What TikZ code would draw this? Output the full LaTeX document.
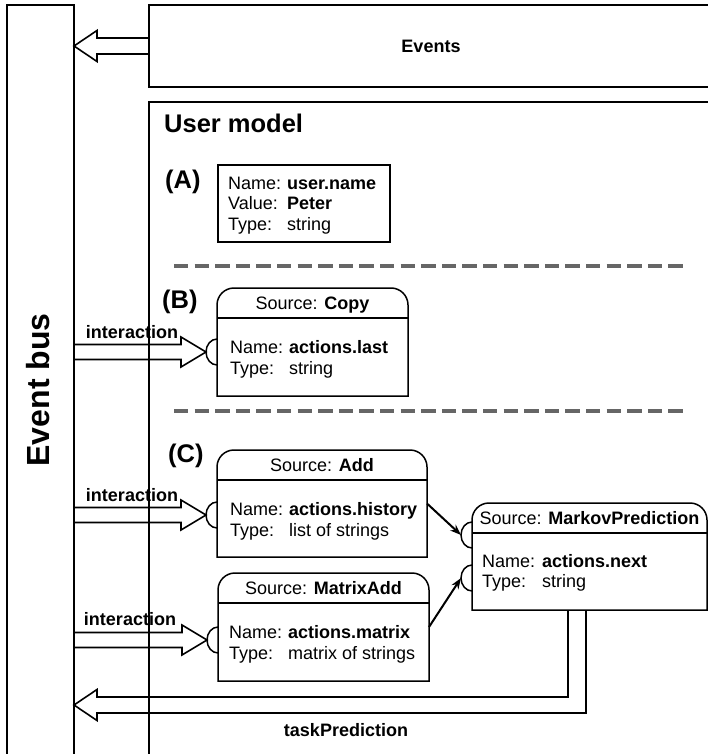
\documentclass[tikz,border=0pt]{standalone}
\usepackage{fontspec}
\setmainfont{Liberation Sans}
\usetikzlibrary{calc,arrows.meta}
\newcommand\fs[1]{\fontsize{#1}{#1}\selectfont}
\newcommand\lab[1]{\makebox[59pt][l]{#1}}
\newcommand\rbox[1]{%
  \draw[rb] (#1.south west) -- ([yshift=-17pt]#1.north west)
    arc[start angle=180,end angle=90,radius=17pt]
    -- ([xshift=-17pt]#1.north east)
    arc[start angle=90,end angle=0,radius=17pt]
    -- (#1.south east) -- cycle;
  \draw[rb] ([yshift=-30pt]#1.north west) -- ([yshift=-30pt]#1.north east);}
\newcommand\socket[1]{%
  \draw[rb] ([yshift=13pt]#1) arc[start angle=90,end angle=270,x radius=11pt,y radius=13pt];}
\newcommand\rarrow[2]{%
  \draw[ar] ($(#1)+(0,-7.5)$) -- ($(#2)+(-25,-7.5)$) -- ($(#2)+(-25,-15)$) -- (#2)
    -- ($(#2)+(-25,15)$) -- ($(#2)+(-25,7.5)$) -- ($(#1)+(0,7.5)$);}
\begin{document}
\begin{tikzpicture}[x=1pt,y=-1pt,
  frame/.style={draw, line width=1.9pt, inner sep=0pt, outer sep=0pt},
  abox/.style={draw, line width=1.2pt, inner sep=0pt, outer sep=0pt},
  plain/.style={inner sep=0pt, outer sep=0pt},
  rb/.style={line width=1.5pt},
  ar/.style={line width=1.6pt, line join=miter},
  txt/.style={font=\fs{18}, inner sep=0pt, anchor=base west},
  ttl/.style={font=\fs{18}, inner sep=0pt, anchor=base},
  big/.style={font=\fs{25.5}\bfseries, inner sep=0pt, anchor=base west},
  lbl/.style={font=\fs{18}\bfseries, inner sep=0pt},
  sep/.style={draw=black!60, line width=4pt, dash pattern=on 14.3pt off 6.3pt},
  conn/.style={line width=2pt, -{Stealth[length=11pt,width=8pt]}},
]
\useasboundingbox (0,0) rectangle (708,754);
\clip (0,0) rectangle (708,754);

% event bus
\node[frame, anchor=north west, minimum width=67pt, minimum height=800pt] (eventbus) at (7,5) {};
\node[font=\fs{32}\bfseries, rotate=90, inner sep=0pt] (ebtext) at (38,390) {Event bus};

% events
\node[frame, anchor=north west, minimum width=600pt, minimum height=82pt] (events) at (149,5) {};
\node[lbl] (eventstext) at (431,46) {Events};
\coordinate (evs) at (events.west);
\coordinate (evtip) at (eventbus.east |- events.west);
\draw[ar] ($(evs)+(0,-8)$) -- ($(evtip)+(23,-8)$) -- ($(evtip)+(23,-15.5)$) -- (evtip)
  -- ($(evtip)+(23,15.5)$) -- ($(evtip)+(23,8)$) -- ($(evs)+(0,8)$);

% user model
\node[frame, anchor=north west, minimum width=600pt, minimum height=700pt] (usermodel) at (149,102) {};
\node[big] (umtitle) at (164,133) {User model};

% (A)
\node[big] (la) at (165,189) {(A)};
\node[abox, anchor=north west, minimum width=172pt, minimum height=77pt] (a) at (218,165) {};
\node[txt] (a1) at (228,189.5) {\lab{Name:}\textbf{user.name}};
\node[txt] (a2) at (228,209.5) {\lab{Value:}\textbf{Peter}};
\node[txt] (a3) at (228,230.5) {\lab{Type:}string};

\coordinate (d1s) at (174,266);
\coordinate (d1e) at (684,266);
\draw[sep] (d1s) -- (d1e);

% (B)
\node[big] (lb) at (162,308) {(B)};
\node[plain, anchor=north west, minimum width=191pt, minimum height=108pt] (b) at (217,288) {};
\rbox{b}
\node[ttl] (bt) at ($(b.north)+(0,21.5)$) {Source: \textbf{Copy}};
\node[txt] (b1) at ($(b.north west)+(13,65.5)$) {\lab{Name:}\textbf{actions.last}};
\node[txt] (b2) at ($(b.north west)+(13,86.5)$) {\lab{Type:}string};
\coordinate (bs) at ($(b.north west)+(0,64)$);
\socket{bs}
\coordinate (bst) at (eventbus.east |- bs);
\coordinate (btip) at ($(bs)+(-11,0)$);
\rarrow{bst}{btip}
\node[lbl] (bi) at ($(bst)+(58,-20)$) {interaction};

\coordinate (d2s) at (174,411);
\coordinate (d2e) at (684,411);
\draw[sep] (d2s) -- (d2e);

% (C)
\node[big] (lc) at (168,462) {(C)};
\node[plain, anchor=north west, minimum width=210pt, minimum height=107pt] (add) at (217,450) {};
\rbox{add}
\node[ttl] (addt) at ($(add.north)+(0,21.5)$) {Source: \textbf{Add}};
\node[txt] (add1) at ($(add.north west)+(13,65.5)$) {\lab{Name:}\textbf{actions.history}};
\node[txt] (add2) at ($(add.north west)+(13,86.5)$) {\lab{Type:}list of strings};
\coordinate (adds) at ($(add.north west)+(0,65)$);
\socket{adds}
\coordinate (addst) at (eventbus.east |- adds);
\coordinate (addtip) at ($(adds)+(-11,0)$);
\rarrow{addst}{addtip}
\node[lbl] (addi) at ($(addst)+(58,-20)$) {interaction};

\node[plain, anchor=north west, minimum width=211pt, minimum height=108pt] (madd) at (218,573) {};
\rbox{madd}
\node[ttl] (maddt) at ($(madd.north)+(0,21.5)$) {Source: \textbf{MatrixAdd}};
\node[txt] (madd1) at ($(madd.north west)+(11,65.5)$) {\lab{Name:}\textbf{actions.matrix}};
\node[txt] (madd2) at ($(madd.north west)+(11,86.5)$) {\lab{Type:}matrix of strings};
\coordinate (madds) at ($(madd.north west)+(0,67)$);
\socket{madds}
\coordinate (maddst) at (eventbus.east |- madds);
\coordinate (maddtip) at ($(madds)+(-11,0)$);
\rarrow{maddst}{maddtip}
\node[lbl] (maddi) at ($(maddst)+(56,-21)$) {interaction};

% Markov
\node[plain, anchor=north west, minimum width=235pt, minimum height=107pt] (markov) at (472,503) {};
\rbox{markov}
\node[ttl] (markovt) at ($(markov.north)+(0,21.5)$) {Source: \textbf{MarkovPrediction}};
\node[txt] (markov1) at ($(markov.north west)+(10,64.5)$) {\makebox[60pt][l]{Name:}\textbf{actions.next}};
\node[txt] (markov2) at ($(markov.north west)+(10,84.5)$) {\makebox[60pt][l]{Type:}string};
\coordinate (ms1) at ($(markov.north west)+(0,32)$);
\coordinate (ms2) at ($(markov.north west)+(0,75)$);
\socket{ms1}
\socket{ms2}
\coordinate (ms1tip) at ($(ms1)+(-11,0)$);
\coordinate (ms2tip) at ($(ms2)+(-11,0)$);
\draw[conn] (add.east) -- (ms1tip);
\draw[conn] (madd.east) -- (ms2tip);

% taskPrediction
\coordinate (tpa) at ($(markov.south west)+(96,0)$);
\coordinate (tpb) at ($(markov.south west)+(114,0)$);
\coordinate (tptip) at (eventbus.east |- 0,705);
\draw[ar] (tpa) -- ($(tpa)+(0,87)$) -- ($(tptip)+(23,-8)$) -- ($(tptip)+(23,-15.5)$) -- (tptip)
  -- ($(tptip)+(23,15.5)$) -- ($(tptip)+(23,8)$) -- ($(tpb)+(0,103)$) -- (tpb);
\node[lbl] (tp) at (346,730) {taskPrediction};
\end{tikzpicture}
\end{document}
